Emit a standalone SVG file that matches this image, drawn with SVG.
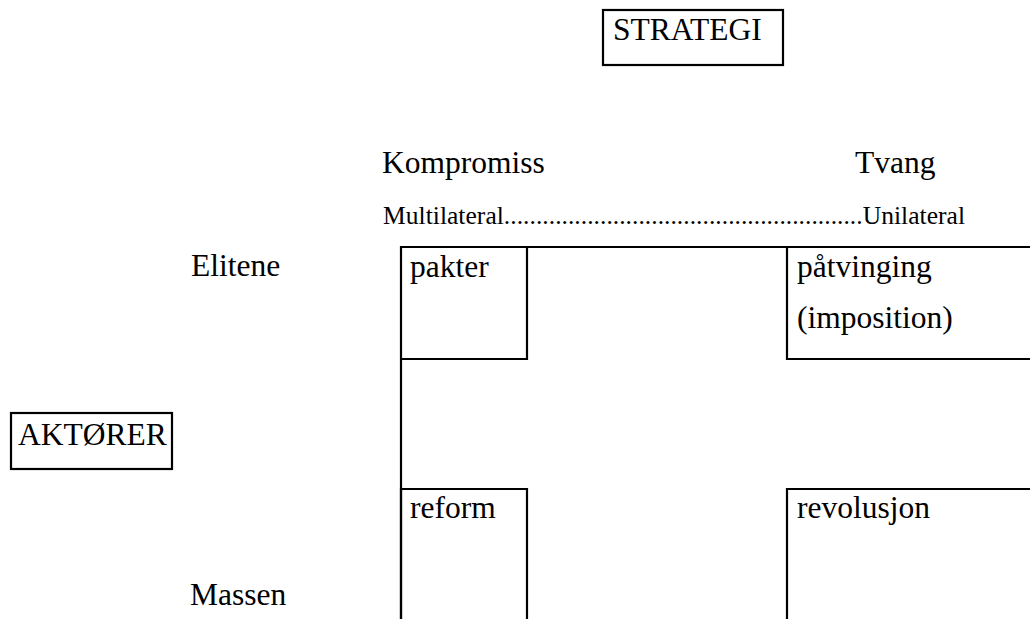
<svg xmlns="http://www.w3.org/2000/svg" width="1030" height="619" viewBox="0 0 1030 619">
<style>
  text { font-family: "Liberation Serif", Tinos, "Times New Roman", Times, "DejaVu Serif", serif; fill: #000; }
  .big { font-size: 31.5px; }
  .small { font-size: 25.5px; }
  .box { fill: none; stroke: #000; stroke-width: 2.2; }
</style>
<rect width="1030" height="619" fill="#fff"/>
<g id="strategi">
  <rect class="box" x="603" y="10" width="180" height="55"/>
  <text class="big" x="613" y="40">STRATEGI</text>
</g>
<g id="aktorer">
  <rect class="box" x="11" y="413" width="161" height="56"/>
  <text class="big" x="18" y="445">AKTØRER</text>
</g>
<g id="kompromiss"><text class="big" x="382" y="173">Kompromiss</text></g>
<g id="tvang"><text class="big" x="855" y="173">Tvang</text></g>
<g id="axis"><text class="small" x="383" y="224" textLength="582" lengthAdjust="spacing">Multilateral........................................................Unilateral</text></g>
<g id="elitene"><text class="big" x="191" y="276">Elitene</text></g>
<g id="massen"><text class="big" x="190" y="605">Massen</text></g>
<g id="frame">
  <path class="box" d="M401,640 V247 H1040"/>
</g>
<g id="pakter">
  <path class="box" d="M401,247 H527 V359 H401"/>
  <text class="big" x="410" y="277">pakter</text>
</g>
<g id="patvinging">
  <path class="box" d="M787,247 V359 H1040"/>
  <text class="big" x="797" y="277">påtvinging</text>
  <text class="big" x="797" y="328">(imposition)</text>
</g>
<g id="reform">
  <path class="box" d="M401,640 V489 H527 V640"/>
  <text class="big" x="410" y="518">reform</text>
</g>
<g id="revolusjon">
  <path class="box" d="M787,640 V489 H1040"/>
  <text class="big" x="797" y="518">revolusjon</text>
</g>
<g id="connectors"></g>
</svg>
